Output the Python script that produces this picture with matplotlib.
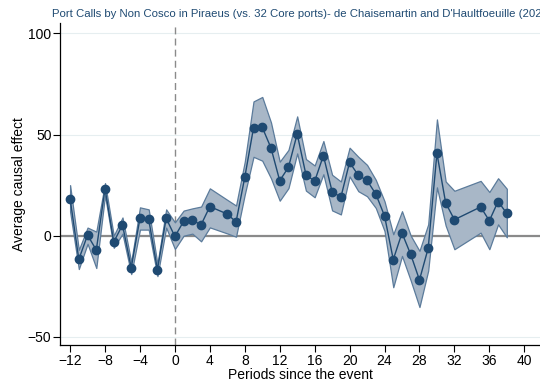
import matplotlib
matplotlib.use("Agg")
import matplotlib.pyplot as plt
import numpy as np

plt.rcParams["font.family"] = ["Liberation Sans", "DejaVu Sans"]

# Event-study estimates (periods 5, 33 and 34 are not estimated)
periods = [-12, -11, -10, -9, -8, -7, -6, -5, -4, -3, -2, -1, 0,
           1, 2, 3, 4, 6, 7, 8, 9, 10, 11, 12, 13, 14, 15, 16, 17, 18, 19,
           20, 21, 22, 23, 24, 25, 26, 27, 28, 29, 30, 31, 32, 35, 36, 37, 38]
effect = [18.3, -11.7, 0.3, -7.1, 23.2, -3.1, 5.3, -15.8, 8.6, 8.1, -16.8, 8.6, -0.4,
          7.1, 7.6, 5.4, 14.4, 10.7, 6.8, 28.9, 53.3, 53.6, 43.4, 27.2, 33.8, 50.3, 30.2, 26.9, 39.6, 21.8, 19.0,
          36.3, 29.8, 27.3, 20.6, 9.8, -11.8, 1.3, -9.3, -21.9, -6.2, 40.7, 16.2, 7.9, 14.2, 7.4, 16.9, 11.0]
ci_low = [12.0, -16.5, -4.0, -16.0, 20.0, -6.0, 1.0, -19.0, 3.0, 3.0, -20.0, 4.0, -6.6,
          0.0, 1.0, -2.8, 4.1, 1.1, -0.5, 20.4, 39.0, 37.1, 28.4, 17.3, 23.5, 40.7, 22.3, 19.0, 30.4, 12.5, 10.5,
          29.3, 22.0, 19.5, 13.7, 2.3, -25.5, -10.0, -22.2, -35.3, -17.3, 23.9, 5.0, -6.7, 1.5, -6.7, 5.6, -0.8]
ci_high = [25.0, -7.0, 4.0, 2.0, 26.0, 0.0, 9.0, -13.0, 14.0, 13.0, -14.0, 13.0, 6.6,
           12.4, 13.5, 14.4, 23.4, 17.7, 14.9, 36.6, 66.4, 68.6, 56.0, 36.6, 42.4, 59.0, 37.9, 34.7, 46.8, 30.1, 26.8,
           43.5, 39.0, 35.0, 27.6, 17.0, 0.7, 12.1, 0.0, -7.5, 5.6, 57.5, 26.8, 22.2, 27.1, 21.6, 28.4, 23.2]

x_ticks = list(range(-12, 41, 4))
y_ticks = [-50, 0, 50, 100]

navy = "#1f4a72"

fig = plt.figure(figsize=(5.4, 3.83), dpi=100, facecolor="white")
ax = fig.add_axes([0.112, 0.098, 0.888, 0.841])

for yv in y_ticks:
    ax.axhline(yv, color="#e6eef0", lw=0.8, zorder=0)
ax.axhline(0, color="#8a8a8a", lw=1.6, zorder=1)
ax.axvline(0, color="#8a8a8a", lw=1.0, ls=(0, (5, 3)), zorder=1)

ax.fill_between(periods, ci_low, ci_high, facecolor="#a8b7c7", edgecolor="#5b7b9b",
                lw=0.9, zorder=2)
ax.plot(periods, effect, color=navy, lw=1.0, marker="o", ms=6,
        mfc=navy, mec=navy, zorder=3)

ax.set_xlim(-13.1, 41.8)
ax.set_ylim(-54.3, 105)
ax.set_xticks(x_ticks)
ax.set_yticks(y_ticks)
ax.tick_params(axis="both", direction="out", length=5, width=0.8, labelsize=10,
               colors="black", pad=1.5)
for s in ("top", "right"):
    ax.spines[s].set_visible(False)
for s in ("left", "bottom"):
    ax.spines[s].set_linewidth(0.9)

ax.set_xlabel("Periods since the event", fontsize=10, labelpad=0)
ax.set_ylabel("Average causal effect", fontsize=10, labelpad=1)

# long title, runs off the right edge of the canvas
fig.text(0.097, 0.963,
         "Port Calls by Non Cosco in Piraeus (vs. 32 Core ports)- de Chaisemartin and D'Haultfoeuille (2020)",
         color="#1f4a72", fontsize=8.2, ha="left", va="center")

fig.savefig("out.png", dpi=100)
